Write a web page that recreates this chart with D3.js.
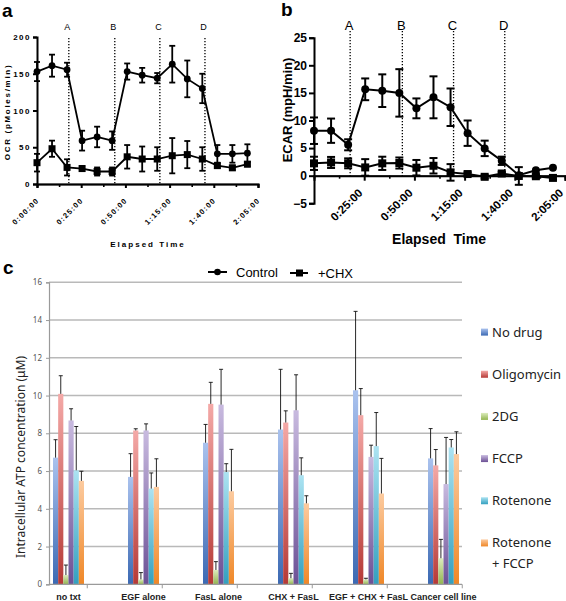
<!DOCTYPE html>
<html><head><meta charset="utf-8">
<script src="https://cdn.jsdelivr.net/npm/d3@7"></script>
<style>body{margin:0;background:#fff}</style>
</head><body>
<script>
// ---------------- data ----------------
const timeMin = [0, 8.5, 17, 25.5, 34, 42.5, 51, 59.5, 68, 76.5, 85, 93.5, 102, 110.5, 119];
const injectTime = [18, 44, 69.5, 95];
const injectLabel = ["A", "B", "C", "D"];
const tickTimesA = [0, 25, 50, 75, 100, 125];
const tickLabelsA = ["0:00:00", "0:25:00", "0:50:00", "1:15:00", "1:40:00", "2:05:00"];
const minorTimes = [12.5, 37.5, 62.5, 87.5, 112.5];
const tickTimesB = [25, 50, 75, 100, 125];
const tickLabelsB = ["0:25:00", "0:50:00", "1:15:00", "1:40:00", "2:05:00"];
const ocrTicks = [0, 50, 100, 150, 200];
const ecarTicks = [-5, 0, 5, 10, 15, 20, 25];

const ocrControl    = [153, 161, 155.5, 59, 64, 59, 153, 148, 144, 163, 143, 130, 41, 41, 42];
const ocrControlErr = [13, 15, 9.5, 13.5, 14, 12.5, 11, 10, 7, 25, 25, 20, 12, 12, 12];
const ocrChx        = [29, 48, 22.6, 21, 17, 17, 37, 34, 34, 38.5, 40, 34, 25, 22, 27];
const ocrChxErr     = [12, 11, 11, 3.4, 5.5, 5.5, 16, 17, 16, 24, 18.5, 16, 3, 3, 3];

const ecarControl    = [8.15, 8.15, 5.6, 15.65, 15.4, 15.0, 12.2, 14.2, 12.4, 7.7, 4.95, 2.7, 0.1, 1.0, 1.45];
const ecarControlErr = [2.4, 2.2, 1.0, 1.97, 2.96, 4.3, 1.8, 3.8, 3.4, 2.3, 1.4, 0.75, 0, 0, 0];
const ecarChx        = [2.24, 2.4, 2.24, 1.5, 2.24, 2.3, 1.45, 1.8, 0.6, 0.3, -0.2, 0.4, -0.05, -0.1, -0.4];
const ecarChxErr     = [1.2, 1.0, 0.9, 1.5, 1.2, 1.0, 1.4, 1.4, 1.5, 0.3, 0.3, 0.3, 1.6, 0.3, 0.3];

const categories = ["no txt", "EGF alone", "FasL alone", "CHX + FasL", "EGF + CHX + FasL", "Cancer cell line"];
const drugs = ["No drug", "Oligomycin", "2DG", "FCCP", "Rotenone", "Rotenone + FCCP"];
const atpTicks = [0, 2, 4, 6, 8, 10, 12, 14, 16];
const noDrug        = [6.71, 5.69, 7.5, 8.2, 10.28, 6.67];
const noDrugErr     = [0.95, 1.23, 0.97, 3.19, 4.18, 1.58];
const oligomycin    = [10.09, 8.15, 9.56, 8.57, 8.96, 6.3];
const oligomycinErr = [0.96, 0.09, 1.14, 0.62, 1.41, 0.84];
const dg2           = [0.49, 0.26, 0.76, 0.32, 0.26, 1.38];
const dg2Err        = [0.53, 0.36, 0.44, 0.26, 0.06, 1.0];
const fccp          = [8.68, 8.15, 9.52, 9.22, 6.75, 5.31];
const fccpErr       = [0.62, 0.35, 1.87, 1.88, 0.62, 2.47];
const rotenone      = [6.04, 5.07, 5.95, 5.78, 7.32, 7.25];
const rotenoneErr   = [2.32, 0.83, 0.44, 0.92, 1.78, 0.42];
const rotFccp       = [5.48, 5.16, 4.93, 4.29, 4.81, 6.9];
const rotFccpErr    = [0.51, 1.49, 2.22, 0.4, 1.86, 1.18];

const drugValues = [noDrug, oligomycin, dg2, fccp, rotenone, rotFccp];
const drugErrors = [noDrugErr, oligomycinErr, dg2Err, fccpErr, rotenoneErr, rotFccpErr];
const drugTop = ["#aac2ee", "#f4a9a7", "#dcecbd", "#c8badf", "#ace3f2", "#fccba0"];
const drugBottom = ["#3b69b3", "#b53936", "#93b550", "#6c5095", "#33a0bf", "#ef8727"];

// ---------------- svg ----------------
const W = 566, H = 601;
const svg = d3.select("body").append("svg").attr("width", W).attr("height", H)
  .style("font-family", "'Liberation Sans', Arial, sans-serif");

function panelLetter(x, y, t) {
  svg.append("text").attr("x", x).attr("y", y).text(t)
    .attr("font-size", 19).attr("font-weight", "bold").attr("fill", "#000");
}
panelLetter(2, 17, "a");
panelLetter(281, 16, "b");
panelLetter(3, 274, "c");

function styleAxis(g, sw, fontSize, weight, ls) {
  g.attr("font-family", "'Liberation Sans', Arial, sans-serif")
   .attr("font-size", fontSize).attr("font-weight", weight);
  g.select(".domain").attr("stroke", "#000").attr("stroke-width", sw);
  g.selectAll(".tick line").attr("stroke", "#000").attr("stroke-width", sw);
  g.selectAll(".tick text").attr("fill", "#000").style("letter-spacing", ls + "px");
}

function drawSeries(g, xs, ys, xv, yv, ev, marker, capW, r, lw) {
  const pts = xv.map((t, i) => ({ t, v: yv[i], e: ev[i] }));
  pts.filter(p => p.e > 0).forEach(p => {
    const x = xs(p.t), y1 = ys(p.v - p.e), y2 = ys(p.v + p.e);
    g.append("line").attr("x1", x).attr("x2", x).attr("y1", y1).attr("y2", y2)
      .attr("stroke", "#000").attr("stroke-width", lw);
    [y1, y2].forEach(yy => g.append("line").attr("x1", x - capW / 2).attr("x2", x + capW / 2)
      .attr("y1", yy).attr("y2", yy).attr("stroke", "#000").attr("stroke-width", lw));
  });
  g.append("path").datum(pts)
    .attr("d", d3.line().x(p => xs(p.t)).y(p => ys(p.v)))
    .attr("fill", "none").attr("stroke", "#000").attr("stroke-width", lw);
  pts.forEach(p => {
    if (marker === "circle") {
      g.append("circle").attr("cx", xs(p.t)).attr("cy", ys(p.v)).attr("r", r).attr("fill", "#000");
    } else {
      g.append("rect").attr("x", xs(p.t) - r).attr("y", ys(p.v) - r)
        .attr("width", 2 * r).attr("height", 2 * r).attr("fill", "#000");
    }
  });
}

// ---------------- panel a ----------------
{
  const xA = d3.scaleLinear().domain([0, 125]).range([37, 258]);
  const yA = d3.scaleLinear().domain([0, 200]).range([184, 37]);
  const g = svg.append("g");

  injectTime.forEach((t, i) => {
    g.append("line").attr("x1", xA(t)).attr("x2", xA(t)).attr("y1", 38).attr("y2", yA(0))
      .attr("stroke", "#000").attr("stroke-width", 1.3).attr("stroke-dasharray", "1.3,1.7");
    g.append("text").attr("x", xA(t) - 1.5).attr("y", 30).attr("text-anchor", "middle")
      .attr("font-size", 9).text(injectLabel[i]);
  });

  const gy = g.append("g").attr("transform", `translate(${xA(0)},0)`)
    .call(d3.axisLeft(yA).tickValues(ocrTicks).tickSize(4).tickPadding(2));
  styleAxis(gy, 2, 8, "bold", 1.5);

  const gxm = g.append("g").attr("transform", `translate(0,${yA(0)})`)
    .call(d3.axisBottom(xA).tickValues(minorTimes).tickSize(3).tickFormat(""));
  styleAxis(gxm, 1.6, 8, "bold", 0);
  const gx = g.append("g").attr("transform", `translate(0,${yA(0)})`)
    .call(d3.axisBottom(xA).tickValues(tickTimesA).tickSize(4).tickFormat((d, i) => tickLabelsA[i]));
  styleAxis(gx, 2, 7.5, "bold", 1.2);
  gx.selectAll(".tick text").attr("x", 0).attr("y", 0).attr("dy", 0)
    .attr("text-anchor", "end").attr("transform", "translate(2,17) rotate(-45)");

  drawSeries(g, xA, yA, timeMin, ocrChx, ocrChxErr, "square", 6, 3.5, 1.8);
  drawSeries(g, xA, yA, timeMin, ocrControl, ocrControlErr, "circle", 6, 3.4, 1.8);

  g.append("text").attr("x", 148).attr("y", 247).attr("text-anchor", "middle")
    .attr("font-size", 8).attr("font-weight", "bold").style("letter-spacing", "2px").text("Elapsed Time");
  g.append("text").attr("transform", "translate(10,112) rotate(-90)").attr("text-anchor", "middle")
    .attr("font-size", 8).attr("font-weight", "bold").style("letter-spacing", "1.7px").text("OCR (pMoles/min)");
}

// ---------------- panel b ----------------
{
  const xB = d3.scaleLinear().domain([0, 125]).range([314, 565]);
  const yB = d3.scaleLinear().domain([-5, 25]).range([203.3, 37.7]);
  const g = svg.append("g");

  injectTime.forEach((t, i) => {
    g.append("line").attr("x1", xB(t)).attr("x2", xB(t)).attr("y1", 31).attr("y2", yB(0))
      .attr("stroke", "#000").attr("stroke-width", 1.3).attr("stroke-dasharray", "1.3,1.7");
    g.append("text").attr("x", xB(t) - 1).attr("y", 30).attr("text-anchor", "middle")
      .attr("font-size", 13).text(injectLabel[i]);
  });

  const gy = g.append("g").attr("transform", `translate(${xB(0)},0)`)
    .call(d3.axisLeft(yB).tickValues(ecarTicks).tickSize(5).tickPadding(2));
  styleAxis(gy, 2, 12, "bold", 0);

  const gxm = g.append("g").attr("transform", `translate(0,${yB(0)})`)
    .call(d3.axisBottom(xB).tickValues(minorTimes).tickSize(3).tickFormat(""));
  styleAxis(gxm, 1.6, 12, "normal", 0);
  const gx = g.append("g").attr("transform", `translate(0,${yB(0)})`)
    .call(d3.axisBottom(xB).tickValues(tickTimesB).tickSize(5).tickFormat((d, i) => tickLabelsB[i]));
  styleAxis(gx, 2, 11.5, "bold", 0);
  gx.selectAll(".tick text").attr("x", 0).attr("y", 0).attr("dy", 0)
    .attr("text-anchor", "end").attr("transform", "translate(-1.5,18) rotate(-45)");

  drawSeries(g, xB, yB, timeMin, ecarChx, ecarChxErr, "square", 8, 4, 2);
  drawSeries(g, xB, yB, timeMin, ecarControl, ecarControlErr, "circle", 8, 4, 2);

  g.append("text").attr("x", 439).attr("y", 244).attr("text-anchor", "middle")
    .attr("font-size", 14).attr("font-weight", "bold").text("Elapsed\u00A0\u00A0Time");
  g.append("text").attr("transform", "translate(292,110) rotate(-90)").attr("text-anchor", "middle")
    .attr("font-size", 13).attr("font-weight", "bold").text("ECAR (mpH/min)");
}

// ---------------- panel c ----------------
{
  const xC = d3.scaleBand().domain(categories).range([31, 481]);
  const xIn = d3.scaleBand().domain(drugs).range([-15.5, 15.5]);
  const yC = d3.scaleLinear().domain([0, 16]).range([584.3, 282.3]);
  const plotL = 49, plotR = 462;
  const g = svg.append("g");
  const font = "'Noto Sans', 'Liberation Sans', sans-serif";

  const defs = svg.append("defs");
  drugs.forEach((d, i) => {
    const lg = defs.append("linearGradient").attr("id", "grad" + i)
      .attr("x1", 0).attr("x2", 0).attr("y1", 0).attr("y2", 1);
    lg.append("stop").attr("offset", "0%").attr("stop-color", drugTop[i]);
    lg.append("stop").attr("offset", "100%").attr("stop-color", drugBottom[i]);
  });

  atpTicks.filter(t => t > 0).forEach(t => {
    g.append("line").attr("x1", plotL).attr("x2", plotR).attr("y1", yC(t)).attr("y2", yC(t))
      .attr("stroke", "#b9b9b9").attr("stroke-width", 1.4);
  });
  const gy = g.append("g").attr("transform", `translate(${plotL},0)`)
    .call(d3.axisLeft(yC).tickValues(atpTicks).tickSize(3).tickPadding(4));
  gy.attr("font-family", font).attr("font-size", 8);
  gy.select(".domain").attr("stroke", "#9a9a9a").attr("stroke-width", 1.2);
  gy.selectAll(".tick line").attr("stroke", "#9a9a9a");
  gy.selectAll(".tick text").attr("fill", "#555");

  categories.forEach((c, ci) => {
    const cx = xC(c) + xC.bandwidth() / 2;
    drugs.forEach((d, di) => {
      const v = drugValues[di][ci], e = drugErrors[di][ci];
      const x = cx + xIn(d);
      g.append("rect").attr("x", x).attr("y", yC(v)).attr("width", xIn.bandwidth())
        .attr("height", yC(0) - yC(v)).attr("fill", `url(#grad${di})`);
      const mx = x + xIn.bandwidth() / 2;
      g.append("line").attr("x1", mx).attr("x2", mx).attr("y1", yC(v)).attr("y2", yC(v + e))
        .attr("stroke", "#111").attr("stroke-width", 0.9);
      g.append("line").attr("x1", mx - 2).attr("x2", mx + 2).attr("y1", yC(v + e)).attr("y2", yC(v + e))
        .attr("stroke", "#111").attr("stroke-width", 0.9);
    });
    const tx = cx + xC.bandwidth() / 4;
    g.append("line").attr("x1", tx).attr("x2", tx).attr("y1", yC(0)).attr("y2", yC(0) + 4)
      .attr("stroke", "#9a9a9a").attr("stroke-width", 1);
    g.append("text").attr("x", cx).attr("y", 599.5).attr("text-anchor", "middle")
      .attr("font-family", "'Liberation Sans', Arial, sans-serif").attr("font-weight", "bold")
      .attr("font-size", 9).attr("fill", "#222").text(c);
  });
  g.append("line").attr("x1", plotL).attr("x2", plotR).attr("y1", yC(0)).attr("y2", yC(0))
    .attr("stroke", "#9a9a9a").attr("stroke-width", 1.2);

  g.append("text").attr("transform", "translate(25,457) rotate(-90)").attr("text-anchor", "middle")
    .attr("font-family", font).attr("font-size", 12).attr("fill", "#222")
    .text("Intracellular ATP concentration (\u03BCM)");

  const legY = d3.scaleBand().domain(drugs).range([311, 564]);
  drugs.forEach((d, i) => {
    const y = legY(d) + legY.bandwidth() / 2;
    g.append("rect").attr("x", 481).attr("y", y - 3.5).attr("width", 7).attr("height", 7)
      .attr("fill", `url(#grad${i})`);
    const t = g.append("text").attr("x", 492).attr("y", y + 4.5)
      .attr("font-family", font).attr("font-size", 13).attr("fill", "#222");
    if (d === "Rotenone + FCCP") {
      t.text("Rotenone");
      g.append("text").attr("x", 492).attr("y", y + 25)
        .attr("font-family", font).attr("font-size", 13).attr("fill", "#222").text("+ FCCP");
    } else t.text(d);
  });

  const lg = g.append("g").attr("font-family", "'Liberation Sans', Arial, sans-serif").attr("font-size", 13);
  lg.append("line").attr("x1", 208).attr("x2", 227).attr("y1", 272).attr("y2", 272).attr("stroke", "#000").attr("stroke-width", 2);
  lg.append("circle").attr("cx", 217.5).attr("cy", 272).attr("r", 3.3).attr("fill", "#000");
  lg.append("text").attr("x", 236).attr("y", 276.5).text("Control");
  lg.append("line").attr("x1", 290).attr("x2", 308).attr("y1", 273).attr("y2", 273).attr("stroke", "#000").attr("stroke-width", 2);
  lg.append("rect").attr("x", 296).attr("y", 269.5).attr("width", 7).attr("height", 7).attr("fill", "#000");
  lg.append("text").attr("x", 318).attr("y", 277.5).text("+CHX");
}
</script>
</body></html>
